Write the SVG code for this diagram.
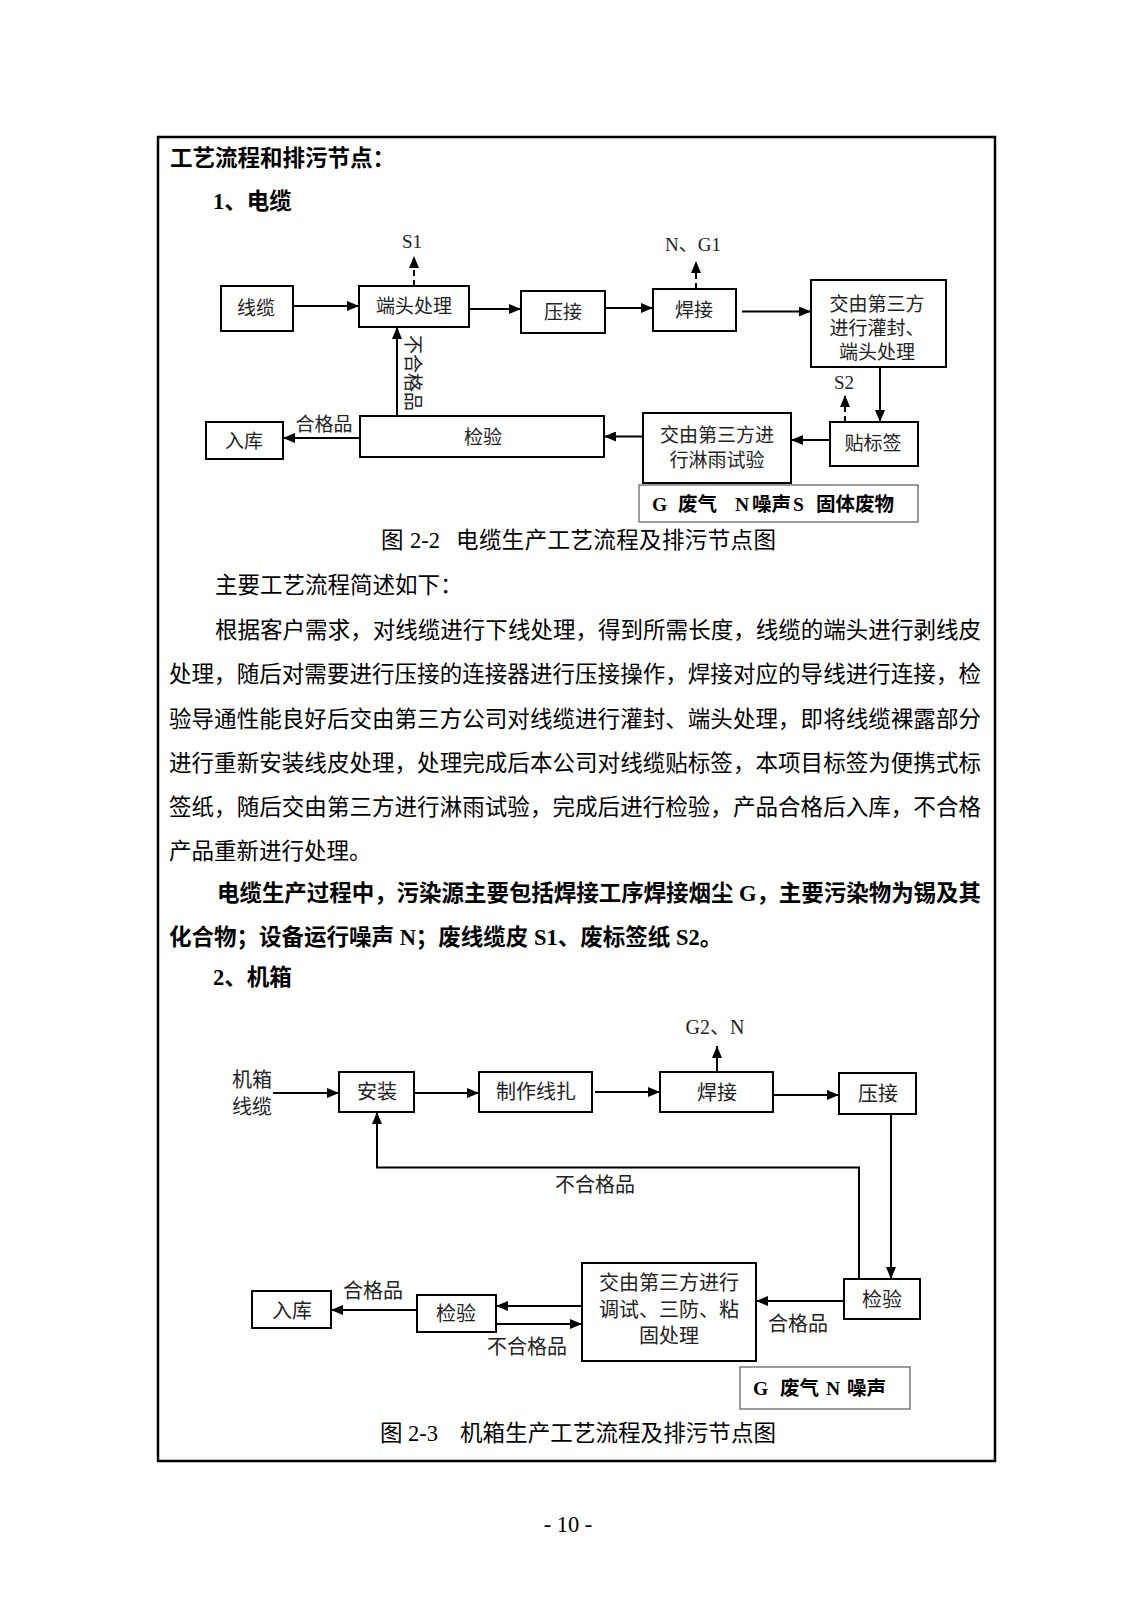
<svg xmlns="http://www.w3.org/2000/svg" width="1131" height="1600" viewBox="0 0 1131 1600">
<defs>
<marker id="ah" markerWidth="12" markerHeight="10" refX="12" refY="5" orient="auto" markerUnits="userSpaceOnUse"><path d="M0,0 L12,5 L0,10 z" fill="#000"/></marker>
<style>
.box{fill:#fff;stroke:#000;stroke-width:2}
.leg{fill:#fff;stroke:#666;stroke-width:1.3}
.ln{fill:none;stroke:#000;stroke-width:2}
.dash{fill:none;stroke:#000;stroke-width:2;stroke-dasharray:6,4}
.lb{font-family:"Liberation Serif","Noto Sans CJK SC",serif;font-size:19px;fill:#222;text-anchor:middle;dominant-baseline:central}
.lb2{font-family:"Liberation Serif","Noto Sans CJK SC",serif;font-size:20px;fill:#222;text-anchor:middle;dominant-baseline:central}
.lg{font-family:"Liberation Serif","Noto Sans CJK SC",serif;font-size:19.5px;font-weight:bold;fill:#000;dominant-baseline:central}
.body{font-family:"Liberation Serif","Noto Sans CJK SC",serif;font-size:22.5px;fill:#000}
.bold{font-weight:bold}
</style>
</defs>
<rect x="158" y="137" width="837" height="1324" fill="none" stroke="#000" stroke-width="2.5"/>

<g id="texts">
<text class="body bold" x="170" y="166" font-size="21.5">工艺流程和排污节点：</text>
<text class="body bold" x="213" y="209">1、电缆</text>
<text class="body" x="381" y="548">图</text>
<text class="body" x="410" y="548">2-2</text>
<text class="body" x="456" y="548" textLength="320" lengthAdjust="spacing">电缆生产工艺流程及排污节点图</text>
<text class="body" x="215" y="593">主要工艺流程简述如下：</text>
<text class="body" x="215" y="638" textLength="766" lengthAdjust="spacing">根据客户需求，对线缆进行下线处理，得到所需长度，线缆的端头进行剥线皮</text>
<text class="body" x="169" y="682" textLength="812" lengthAdjust="spacing">处理，随后对需要进行压接的连接器进行压接操作，焊接对应的导线进行连接，检</text>
<text class="body" x="169" y="727" textLength="812" lengthAdjust="spacing">验导通性能良好后交由第三方公司对线缆进行灌封、端头处理，即将线缆裸露部分</text>
<text class="body" x="169" y="771" textLength="812" lengthAdjust="spacing">进行重新安装线皮处理，处理完成后本公司对线缆贴标签，本项目标签为便携式标</text>
<text class="body" x="169" y="815" textLength="812" lengthAdjust="spacing">签纸，随后交由第三方进行淋雨试验，完成后进行检验，产品合格后入库，不合格</text>
<text class="body" x="169" y="859">产品重新进行处理。</text>
<text class="body bold" x="217" y="901" textLength="764" lengthAdjust="spacing">电缆生产过程中，污染源主要包括焊接工序焊接烟尘 G，主要污染物为锡及其</text>
<text class="body bold" x="169" y="945">化合物；设备运行噪声 N；废线缆皮 S1、废标签纸 S2。</text>
<text class="body bold" x="213" y="985">2、机箱</text>
<text class="body" x="380" y="1441">图</text>
<text class="body" x="408" y="1441">2-3</text>
<text class="body" x="460" y="1441" textLength="316" lengthAdjust="spacing">机箱生产工艺流程及排污节点图</text>
<text class="body" x="568" y="1532" font-size="16" text-anchor="middle">- 10 -</text>
</g>

<g id="d1-nodes">
<g id="n-xianlan"><rect class="box" x="221" y="286" width="72" height="45"/><text class="lb" x="256" y="308">线缆</text></g>
<g id="n-duantou"><rect class="box" x="359" y="286" width="110" height="41"/><text class="lb" x="414" y="306">端头处理</text></g>
<g id="n-yajie1"><rect class="box" x="521" y="291" width="84" height="42"/><text class="lb" x="563" y="312">压接</text></g>
<g id="n-hanjie1"><rect class="box" x="653" y="289" width="83" height="42"/><text class="lb" x="694" y="310">焊接</text></g>
<g id="n-guanfeng"><rect class="box" x="811" y="280" width="135" height="87"/><text class="lb" x="877" y="304">交由第三方</text><text class="lb" x="877" y="328">进行灌封、</text><text class="lb" x="877" y="352">端头处理</text></g>
<g id="n-tiebiaoqian"><rect class="box" x="830" y="422" width="88" height="44"/><text class="lb" x="873" y="443">贴标签</text></g>
<g id="n-linyu"><rect class="box" x="643" y="413" width="148" height="70"/><text class="lb" x="717" y="435">交由第三方进</text><text class="lb" x="717" y="460">行淋雨试验</text></g>
<g id="n-jianyan1"><rect class="box" x="360" y="416" width="244" height="41"/><text class="lb" x="483" y="437">检验</text></g>
<g id="n-ruku1"><rect class="box" x="206" y="422" width="77" height="37"/><text class="lb" x="244" y="441">入库</text></g>
<g id="n-legend1"><rect class="leg" x="639" y="485" width="279" height="37"/>
<text class="lg" y="504"><tspan x="652">G</tspan><tspan x="678">废气</tspan><tspan x="735">N</tspan><tspan x="752">噪声</tspan><tspan x="793">S</tspan><tspan x="816">固体废物</tspan></text></g>
<g id="n-s1"><text class="lb" x="412" y="241">S1</text></g>
<g id="n-ng1"><text class="lb" x="693" y="244">N、G1</text></g>
<g id="n-s2"><text class="lb" x="844" y="382">S2</text></g>
</g>

<g id="d1-connectors">
<line class="ln" x1="293" y1="306" x2="359" y2="306" marker-end="url(#ah)"/>
<line class="ln" x1="469" y1="309" x2="521" y2="309" marker-end="url(#ah)"/>
<line class="ln" x1="605" y1="308" x2="653" y2="308" marker-end="url(#ah)"/>
<line class="ln" x1="742" y1="311.5" x2="811" y2="311.5" marker-end="url(#ah)"/>
<line class="ln" x1="880" y1="367" x2="880" y2="422" marker-end="url(#ah)"/>
<line class="ln" x1="830" y1="440" x2="791" y2="440" marker-end="url(#ah)"/>
<line class="ln" x1="643" y1="436.5" x2="604" y2="436.5" marker-end="url(#ah)"/>
<line class="ln" x1="360" y1="438" x2="283" y2="438" marker-end="url(#ah)"/>
<line class="ln" x1="397" y1="416" x2="397" y2="327" marker-end="url(#ah)"/>
<line class="dash" x1="414" y1="286" x2="414" y2="256" marker-end="url(#ah)"/>
<line class="dash" x1="696" y1="289" x2="696" y2="261" marker-end="url(#ah)"/>
<line class="dash" x1="845" y1="422" x2="845" y2="395" marker-end="url(#ah)"/>
<text class="lb" x="324" y="424">合格品</text>
<text class="lb" x="412" y="373" transform="rotate(90 412 373)">不合格品</text>
</g>

<g id="d2-nodes">
<g id="n-jixiang"><text class="lb2" x="252" y="1080">机箱</text><text class="lb2" x="252" y="1107">线缆</text></g>
<g id="n-anzhuang"><rect class="box" x="339" y="1072" width="75" height="40"/><text class="lb2" x="377" y="1092">安装</text></g>
<g id="n-xianzha"><rect class="box" x="479" y="1072" width="113" height="40"/><text class="lb2" x="536" y="1092">制作线扎</text></g>
<g id="n-hanjie2"><rect class="box" x="660" y="1072" width="113" height="40"/><text class="lb2" x="717" y="1093">焊接</text></g>
<g id="n-yajie2"><rect class="box" x="839" y="1073" width="77" height="41"/><text class="lb2" x="878" y="1094">压接</text></g>
<g id="n-jianyan2r"><rect class="box" x="844" y="1279" width="76" height="40"/><text class="lb2" x="882" y="1300">检验</text></g>
<g id="n-tiaoshi"><rect class="box" x="582" y="1263" width="174" height="98"/><text class="lb2" x="669" y="1283">交由第三方进行</text><text class="lb2" x="669" y="1310">调试、三防、粘</text><text class="lb2" x="669" y="1336">固处理</text></g>
<g id="n-jianyan2l"><rect class="box" x="417" y="1295" width="79" height="37"/><text class="lb2" x="456" y="1314">检验</text></g>
<g id="n-ruku2"><rect class="box" x="252" y="1291" width="79" height="37"/><text class="lb2" x="292" y="1311">入库</text></g>
<g id="n-legend2"><rect class="leg" x="740" y="1367" width="170" height="42"/>
<text class="lg" y="1388"><tspan x="753">G</tspan><tspan x="780">废气</tspan><tspan x="826">N</tspan><tspan x="847">噪声</tspan></text></g>
<g id="n-g2n"><text class="lb2" x="715" y="1027">G2、N</text></g>
</g>

<g id="d2-connectors">
<line class="ln" x1="273" y1="1093" x2="339" y2="1093" marker-end="url(#ah)"/>
<line class="ln" x1="414" y1="1093" x2="479" y2="1093" marker-end="url(#ah)"/>
<line class="ln" x1="595" y1="1092" x2="660" y2="1092" marker-end="url(#ah)"/>
<line class="ln" x1="773" y1="1095" x2="839" y2="1095" marker-end="url(#ah)"/>
<line class="ln" x1="717" y1="1072" x2="717" y2="1046" marker-end="url(#ah)"/>
<line class="ln" x1="891" y1="1114" x2="891" y2="1279" marker-end="url(#ah)"/>
<polyline class="ln" points="859,1279 859,1167.5 377,1167.5 377,1112" marker-end="url(#ah)"/>
<line class="ln" x1="844" y1="1301" x2="756" y2="1301" marker-end="url(#ah)"/>
<line class="ln" x1="582" y1="1306" x2="496" y2="1306" marker-end="url(#ah)"/>
<line class="ln" x1="496" y1="1324" x2="582" y2="1324" marker-end="url(#ah)"/>
<line class="ln" x1="417" y1="1310" x2="331" y2="1310" marker-end="url(#ah)"/>
<text class="lb2" x="595" y="1185">不合格品</text>
<text class="lb2" x="798" y="1324">合格品</text>
<text class="lb2" x="527" y="1347">不合格品</text>
<text class="lb2" x="373" y="1291">合格品</text>
</g>
</svg>
